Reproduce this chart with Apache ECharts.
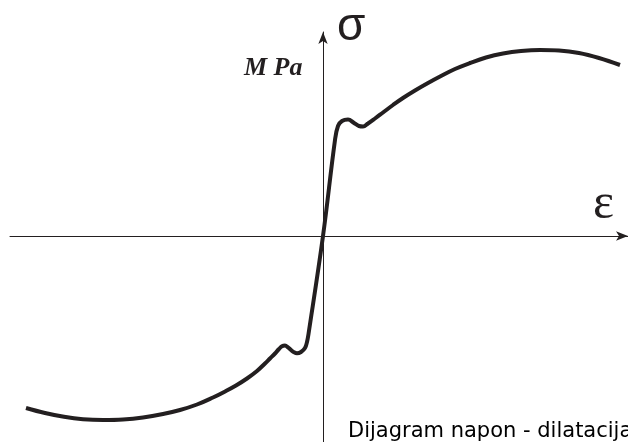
<!DOCTYPE html>
<html>
<head>
<meta charset="utf-8">
<script src="https://cdn.jsdelivr.net/npm/echarts@6/dist/echarts.min.js"></script>
<style>
  html, body { margin: 0; padding: 0; background: #fff; }
  #chart { width: 628px; height: 442px; }
</style>
</head>
<body>
<div id="chart"></div>
<script>
// strain (dilatacija) and stress (napon), arbitrary units
var eps = [-297, -278, -259, -240, -220, -200, -180, -160, -143, -126, -110, -98, -87, -76, -66, -58, -53, -48, -44, -41,
           -38, -35, -32, -29, -26, -22, -18, -16, -14.5, 0,
           12, 15, 19, 25, 31, 36, 40, 45, 52, 60, 70, 80, 92, 105, 118, 132, 147, 163, 180, 198, 217, 236, 256, 276, 297];
var sigma = [-172, -177, -180.8, -183.2, -184, -183.5, -181.5, -178, -174, -168.5, -161.5, -155.5, -149.5, -142.5, -135, -127.5, -122.5, -117.5, -113, -110.3,
             -109.6, -111.3, -114, -116.3, -117.3, -116, -112, -106, -98, 0,
             96, 110, 115, 116.5, 113, 110, 109.5, 112.5, 117.5, 123.5, 131, 138, 145.5, 153, 160, 167, 173, 178.5, 182.5, 185, 186, 185.5, 183, 178, 171];

var labels = { y: 'σ', x: 'ε', unit: 'M Pa', title: 'Dijagram napon - dilatacija' };

var chart = echarts.init(document.getElementById('chart'));

var points = [];
for (var i = 0; i < eps.length; i++) points.push([eps[i], sigma[i]]);

var axisCommon = {
    type: 'value',
    axisLine: {
        onZero: true,
        symbol: ['none', 'arrow'],
        symbolSize: [7, 12],
        lineStyle: { color: '#231f20', width: 1 }
    },
    axisTick: { show: false },
    axisLabel: { show: false },
    splitLine: { show: false }
};

chart.setOption({
    backgroundColor: '#fff',
    animation: false,
    grid: { left: 10, right: 0, top: 32, bottom: 0 },
    xAxis: Object.assign({}, axisCommon, { min: -313, max: 305 }),
    yAxis: Object.assign({}, axisCommon, { min: -206, max: 204 }),
    series: [{
        type: 'line',
        data: points,
        smooth: 0.4,
        showSymbol: false,
        clip: false,
        lineStyle: { color: '#231f20', width: 4 }
    }],
    graphic: [
        { type: 'text', left: 337, top: 4,
          style: { text: labels.y, font: '46px "Liberation Sans"', fill: '#231f20' } },
        { type: 'text', left: 593, top: 180,
          style: { text: labels.x, font: '50px "Liberation Serif"', fill: '#231f20' } },
        { type: 'text', left: 244, top: 55,
          style: { text: labels.unit, font: 'italic bold 26px "Liberation Serif"', fill: '#231f20' } },
        { type: 'text', left: 348, top: 421,
          style: { text: labels.title, font: '21px "DejaVu Sans"', fill: '#000' } }
    ]
});
</script>
</body>
</html>
